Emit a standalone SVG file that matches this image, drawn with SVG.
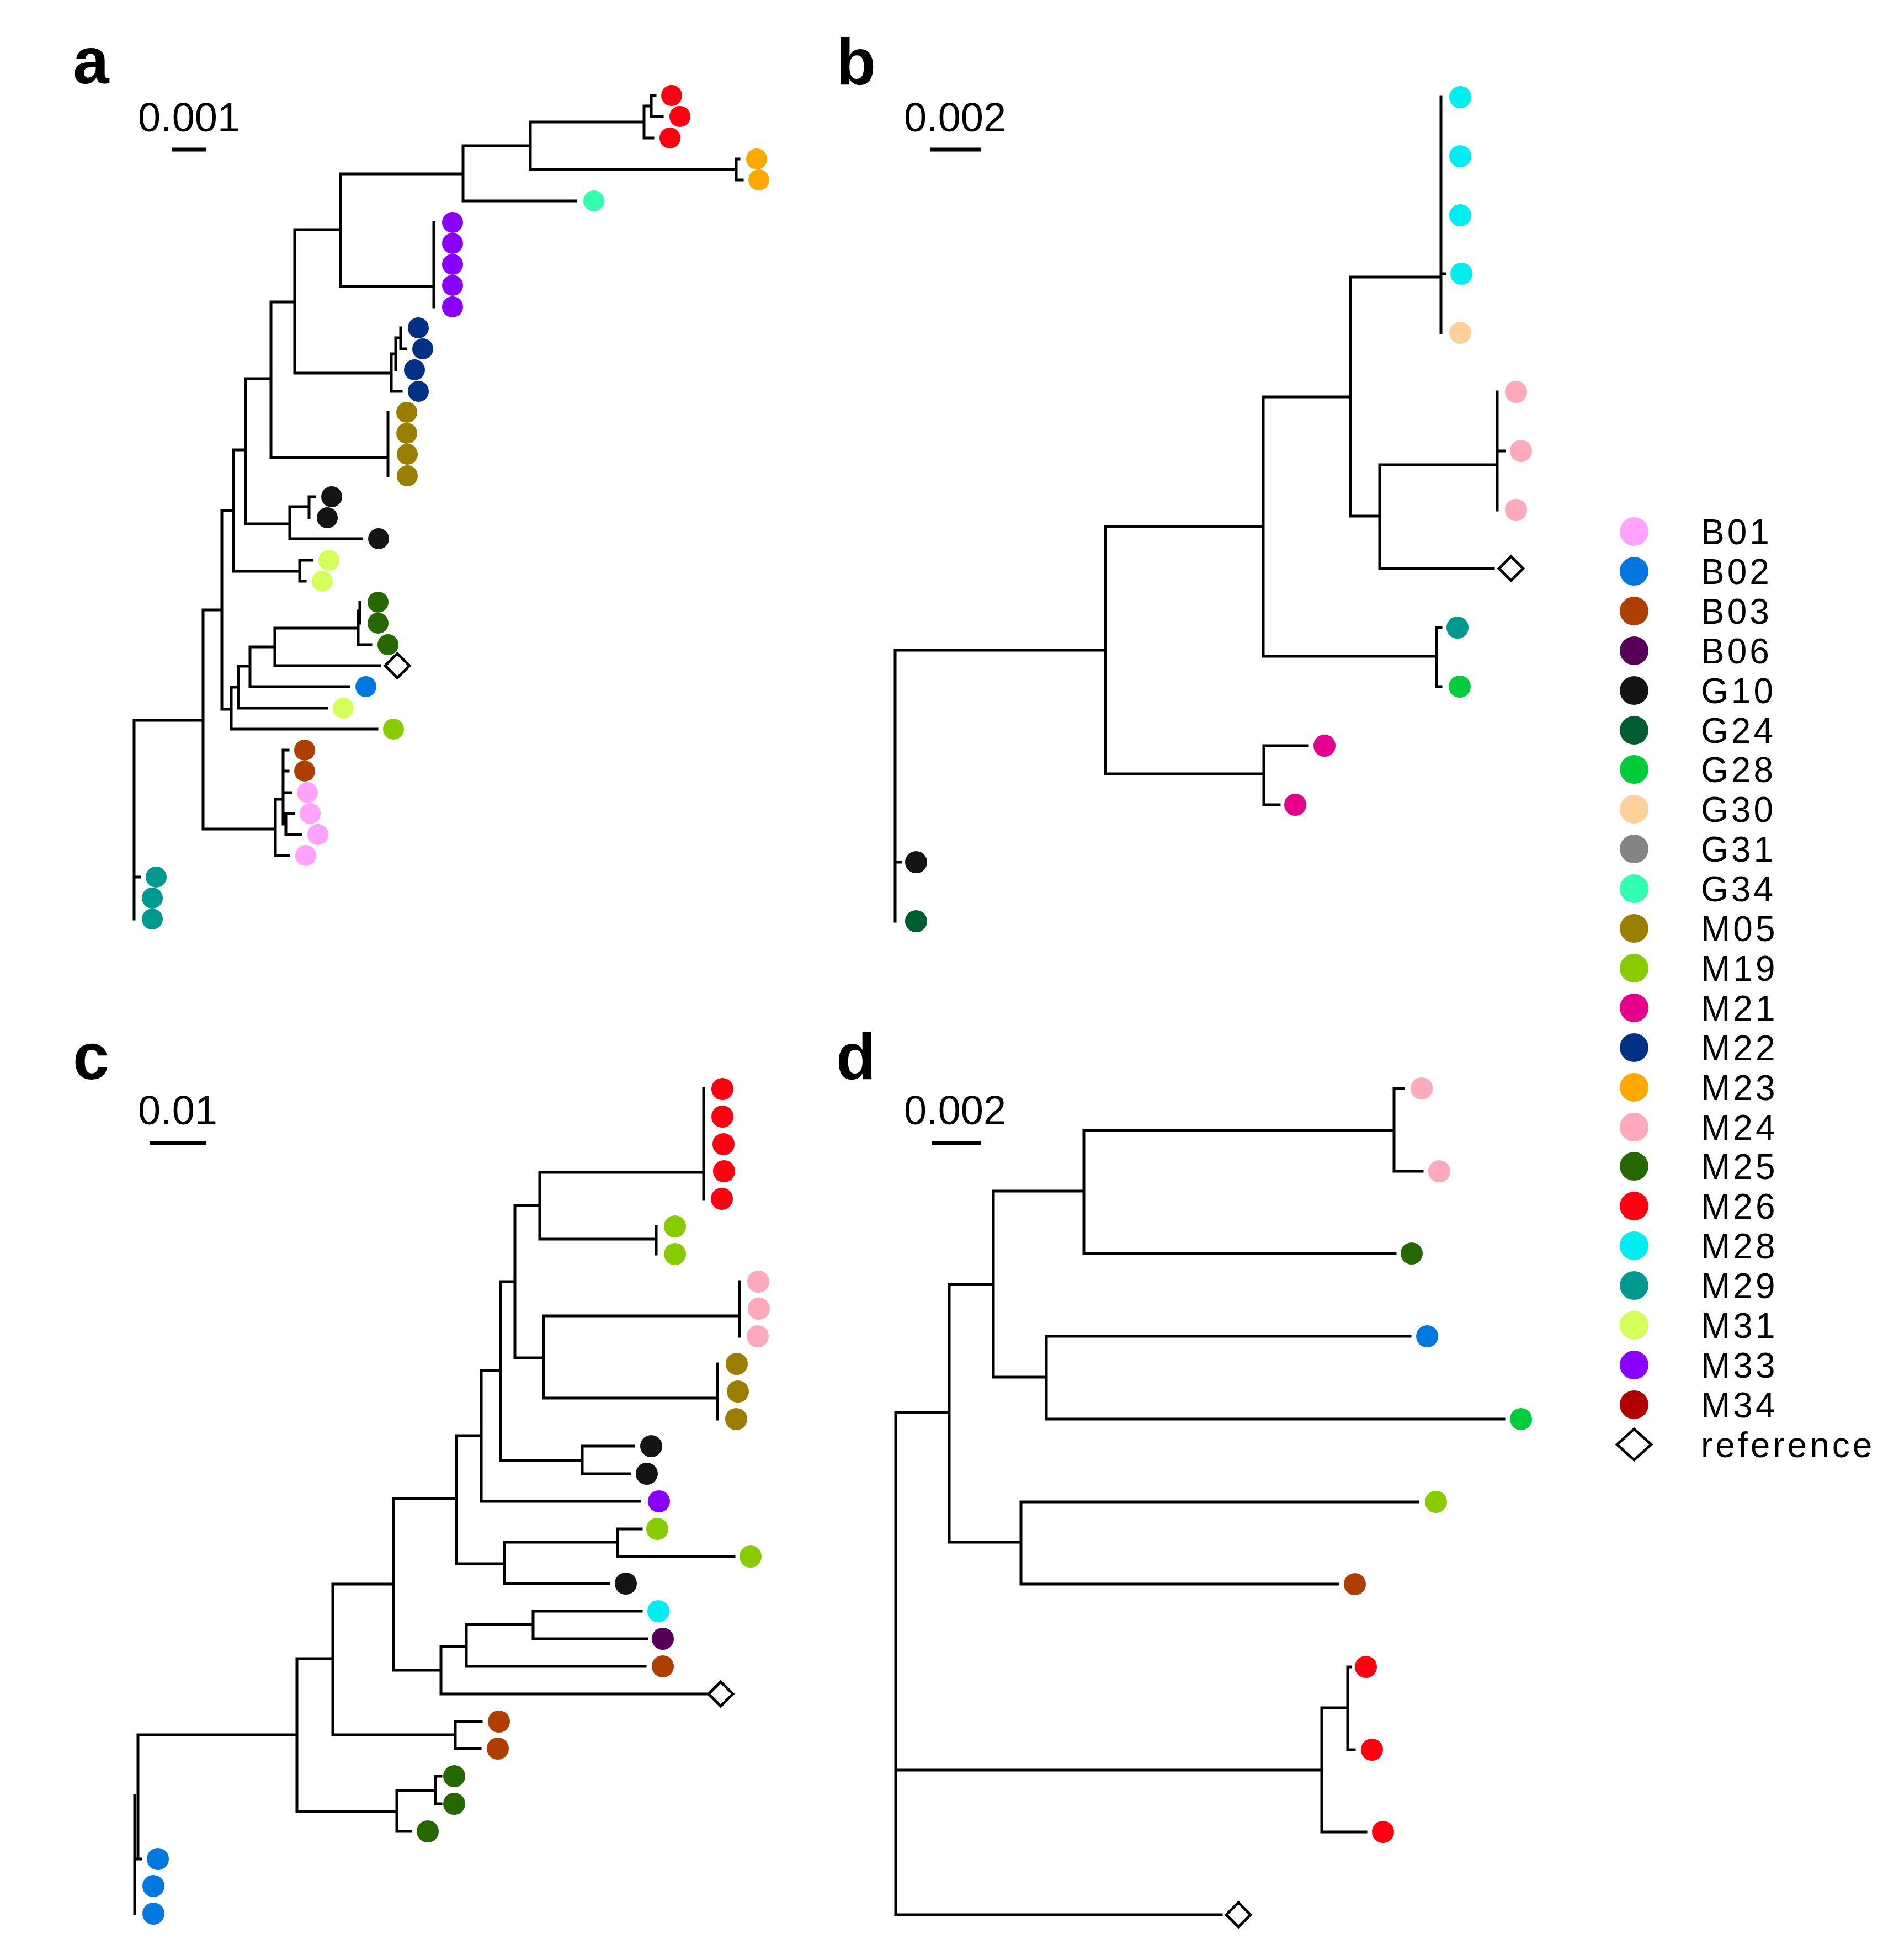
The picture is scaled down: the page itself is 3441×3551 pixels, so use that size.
<svg xmlns="http://www.w3.org/2000/svg" xmlns:xlink="http://www.w3.org/1999/xlink" width="3441" height="3551" viewBox="0 0 3441 3551">
<style>
.br{fill:none;stroke:#000;stroke-width:5;stroke-linecap:square}
.lab{font-family:"Liberation Sans",Arial,sans-serif;font-weight:bold;font-size:118px;fill:#000}
.sc{font-family:"Liberation Sans",Arial,sans-serif;font-size:74px;fill:#000}
.sb{stroke:#000;stroke-width:7}
.lg{font-family:"Liberation Sans",Arial,sans-serif;font-size:64px;letter-spacing:5px;fill:#000}
.dia{fill:#fff;stroke:#000;stroke-width:5}
.B01{fill:#FFA3FF}.B02{fill:#0078DF}.B03{fill:#AF3F00}.B06{fill:#560058}
.G10{fill:#141414}.G24{fill:#005C31}.G28{fill:#00CC3C}.G30{fill:#FFD09A}
.G31{fill:#848484}.G34{fill:#33FFB0}.M05{fill:#9A7E00}.M19{fill:#88CC00}
.M21{fill:#E4008A}.M22{fill:#003184}.M23{fill:#FFA800}.M24{fill:#FFA9BC}
.M25{fill:#256800}.M26{fill:#FF0010}.M28{fill:#00EEF0}.M29{fill:#00998F}
.M31{fill:#D4FF5A}.M33{fill:#8A00FF}.M34{fill:#B20000}
</style>
<defs>
<polygon id="dt" points="-22,0 0,-22 22,0 0,22"/>
</defs>
<rect width="3441" height="3551" fill="#fff"/>

<!-- Panel a -->
<g id="panel-a">
<text class="lab" x="132" y="151">a</text>
<text class="sc" x="250" y="238">0.001</text>
<line class="sb" x1="311" y1="271" x2="373" y2="271"/>
<g id="a-connectors">
<path class="br" d="M243 1305V1665M243 1305H368M243 1589H253
M368 1105V1502M368 1105H402M368 1502H499
M499 1448V1550M499 1448H513M499 1550H523M513 1359V1493M513 1359H522M513 1397H522M513 1436H527M513 1493H518M518 1474V1512M518 1474H532M518 1512H545
M402 925V1285M402 925H423M402 1285H419
M423 815V1035M423 815H445M423 1035H543
M543 1015V1053M543 1015H565M543 1053H553
M445 686V949M445 686H491M445 949H525
M525 918V976M525 976H655M525 918H560M560 900V938M560 900H570
M491 547V829M491 547H534M491 829H703
M703 747V862
M534 416V676M534 416H617M534 676H709
M709 641V709M709 709H727M709 641H717M717 612V670M717 612H726M726 594V632M726 632H735
M617 315V519M617 315H839M617 519H786
M786 403V556
M839 264V364M839 264H961M839 364H1043
M961 221V307M961 221H1167M961 307H1334
M1167 192V250M1167 250H1183M1167 192H1180M1180 173V211M1180 173H1187M1180 211H1200
M1334 288V326M1334 288H1339M1334 326H1345
M419 1245V1321M419 1321H683M419 1245H432
M432 1207V1283M432 1283H592M432 1207H453
M453 1172V1244M453 1244H632M453 1172H498
M498 1138V1206M498 1206H688M498 1138H649
M649 1107V1168M649 1168H672M652 1091V1129"/>
</g>
<g id="a-tips">
<circle class="M26" cx="1217" cy="173" r="19"/><circle class="M26" cx="1232" cy="211" r="19"/><circle class="M26" cx="1214" cy="250" r="19"/>
<circle class="M23" cx="1371" cy="288" r="19"/><circle class="M23" cx="1375" cy="326" r="19"/>
<circle class="G34" cx="1076" cy="364" r="19"/>
<circle class="M33" cx="820" cy="403" r="19"/><circle class="M33" cx="820" cy="441" r="19"/><circle class="M33" cx="820" cy="479" r="19"/><circle class="M33" cx="820" cy="517" r="19"/><circle class="M33" cx="820" cy="556" r="19"/>
<circle class="M22" cx="758" cy="594" r="19"/><circle class="M22" cx="766" cy="632" r="19"/><circle class="M22" cx="751" cy="670" r="19"/><circle class="M22" cx="758" cy="709" r="19"/>
<circle class="M05" cx="737" cy="747" r="19"/><circle class="M05" cx="737" cy="785" r="19"/><circle class="M05" cx="738" cy="823" r="19"/><circle class="M05" cx="738" cy="862" r="19"/>
<circle class="G10" cx="601" cy="900" r="19"/><circle class="G10" cx="593" cy="938" r="19"/><circle class="G10" cx="686" cy="976" r="19"/>
<circle class="M31" cx="596" cy="1015" r="19"/><circle class="M31" cx="584" cy="1053" r="19"/>
<circle class="M25" cx="685" cy="1091" r="19"/><circle class="M25" cx="685" cy="1129" r="19"/><circle class="M25" cx="703" cy="1168" r="19"/>
<use href="#dt" class="dia" x="720" y="1206"/>
<circle class="B02" cx="663" cy="1244" r="19"/>
<circle class="M31" cx="622" cy="1283" r="19"/>
<circle class="M19" cx="713" cy="1321" r="19"/>
<circle class="B03" cx="552" cy="1359" r="19"/><circle class="B03" cx="552" cy="1397" r="19"/>
<circle class="B01" cx="557" cy="1436" r="19"/><circle class="B01" cx="562" cy="1474" r="19"/><circle class="B01" cx="576" cy="1512" r="19"/><circle class="B01" cx="554" cy="1550" r="19"/>
<circle class="M29" cx="283" cy="1589" r="19"/><circle class="M29" cx="276" cy="1627" r="19"/><circle class="M29" cx="276" cy="1665" r="19"/>
</g>
</g>

<!-- Panel b -->
<g id="panel-b">
<text class="lab" x="1515" y="153">b</text>
<text class="sc" x="1638" y="238">0.002</text>
<line class="sb" x1="1686" y1="271" x2="1777" y2="271"/>
<g id="b-connectors">
<path class="br" d="M1622 1178V1669M1622 1178H2003M1622 1562H1632
M2003 954V1402M2003 954H2289M2003 1402H2290
M2290 1351V1458M2290 1351H2369M2290 1458H2318
M2289 719V1189M2289 1189H2603M2289 719H2447
M2603 1137V1244M2603 1137H2611M2603 1244H2611
M2447 502V935M2447 502H2611M2447 935H2500
M2611 176V603M2611 496H2618
M2500 842V1030M2500 842H2713M2500 1030H2706
M2713 710V924M2713 817H2726"/>
</g>
<g id="b-tips">
<circle class="M28" cx="2646" cy="176" r="20"/><circle class="M28" cx="2646" cy="283" r="20"/><circle class="M28" cx="2646" cy="390" r="20"/><circle class="M28" cx="2648" cy="496" r="20"/>
<circle class="G30" cx="2646" cy="603" r="20"/>
<circle class="M24" cx="2747" cy="710" r="20"/><circle class="M24" cx="2756" cy="817" r="20"/><circle class="M24" cx="2747" cy="924" r="20"/>
<use href="#dt" class="dia" x="2738" y="1030"/>
<circle class="M29" cx="2641" cy="1137" r="20"/>
<circle class="G28" cx="2645" cy="1244" r="20"/>
<circle class="M21" cx="2400" cy="1351" r="20"/><circle class="M21" cx="2347" cy="1458" r="20"/>
<circle class="G10" cx="1660" cy="1562" r="20"/>
<circle class="G24" cx="1660" cy="1669" r="20"/>
</g>
</g>

<!-- Panel c -->
<g id="panel-c">
<text class="lab" x="132" y="1955">c</text>
<text class="sc" x="250" y="2037">0.01</text>
<line class="sb" x1="271" y1="2071" x2="373" y2="2071"/>
<g id="c-connectors">
<path class="br" d="M250 3143V3368M244 3253V3467M244 3368H255M250 3143H538
M538 3005V3282M538 3005H603M538 3282H719
M719 3244V3318M719 3244H789M719 3318H744M789 3218V3268M789 3218H799M789 3268H799
M603 2870V3143M603 2870H713M603 3143H825
M825 3119V3168M825 3119H872M825 3168H870
M713 2715V3026M713 2715H827M713 3026H799
M799 2983V3069M799 2983H845M799 3069H1282
M845 2943V3019M845 2943H966M845 3019H1169
M966 2919V2969M966 2919H1162M966 2969H1172
M827 2601V2833M827 2601H872M827 2833H914
M914 2794V2869M914 2794H1119M914 2869H1103
M1119 2770V2820M1119 2770H1162M1119 2820H1330
M872 2483V2720M872 2720H1159M872 2483H907
M907 2322V2646M907 2646H1055M907 2322H933
M1055 2620V2670M1055 2620H1148M1055 2670H1141
M933 2184V2460M933 2184H978M933 2460H985
M985 2384V2533M985 2384H1339M985 2533H1299
M978 2124V2245M978 2124H1275M978 2245H1189
M1189 2222V2272
M1275 1972V2172
M1340 2322V2421
M1300 2471V2571"/>
</g>
<g id="c-tips">
<circle class="M26" cx="1309" cy="1973" r="20"/><circle class="M26" cx="1309" cy="2023" r="20"/><circle class="M26" cx="1311" cy="2073" r="20"/><circle class="M26" cx="1312" cy="2122" r="20"/><circle class="M26" cx="1308" cy="2172" r="20"/>
<circle class="M19" cx="1223" cy="2222" r="20"/><circle class="M19" cx="1223" cy="2272" r="20"/>
<circle class="M24" cx="1374" cy="2322" r="20"/><circle class="M24" cx="1375" cy="2371" r="20"/><circle class="M24" cx="1373" cy="2421" r="20"/>
<circle class="M05" cx="1335" cy="2471" r="20"/><circle class="M05" cx="1337" cy="2521" r="20"/><circle class="M05" cx="1334" cy="2571" r="20"/>
<circle class="G10" cx="1180" cy="2620" r="20"/><circle class="G10" cx="1172" cy="2670" r="20"/>
<circle class="M33" cx="1194" cy="2720" r="20"/>
<circle class="M19" cx="1191" cy="2770" r="20"/><circle class="M19" cx="1360" cy="2820" r="20"/>
<circle class="G10" cx="1134" cy="2869" r="20"/>
<circle class="M28" cx="1193" cy="2919" r="20"/>
<circle class="B06" cx="1201" cy="2969" r="20"/>
<circle class="B03" cx="1201" cy="3019" r="20"/>
<use href="#dt" class="dia" x="1306" y="3069"/>
<circle class="B03" cx="904" cy="3119" r="20"/><circle class="B03" cx="902" cy="3168" r="20"/>
<circle class="M25" cx="823" cy="3218" r="20"/><circle class="M25" cx="823" cy="3268" r="20"/><circle class="M25" cx="775" cy="3318" r="20"/>
<circle class="B02" cx="286" cy="3368" r="20"/><circle class="B02" cx="278" cy="3417" r="20"/><circle class="B02" cx="278" cy="3467" r="20"/>
</g>
</g>

<!-- Panel d -->
<g id="panel-d">
<text class="lab" x="1515" y="1955">d</text>
<text class="sc" x="1638" y="2037">0.002</text>
<line class="sb" x1="1688" y1="2071" x2="1777" y2="2071"/>
<g id="d-connectors">
<path class="br" d="M1623 2559V3469M1623 2559H1720M1623 3207H2395M1623 3469H2213
M1720 2327V2794M1720 2327H1800M1720 2794H1850
M1800 2158V2495M1800 2158H1964M1800 2495H1896
M1964 2048V2271M1964 2048H2526M1964 2271H2528
M2526 1972V2122M2526 1972H2543M2526 2122H2577
M1896 2421V2571M1896 2421H2555M1896 2571H2725
M1850 2721V2870M1850 2721H2569M1850 2870H2424
M2395 3094V3319M2395 3094H2442M2395 3319H2475
M2442 3020V3170M2442 3020H2447M2442 3170H2454"/>
</g>
<g id="d-tips">
<circle class="M24" cx="2576" cy="1972" r="20"/><circle class="M24" cx="2608" cy="2122" r="20"/>
<circle class="M25" cx="2558" cy="2271" r="20"/>
<circle class="B02" cx="2586" cy="2421" r="20"/>
<circle class="G28" cx="2756" cy="2571" r="20"/>
<circle class="M19" cx="2602" cy="2721" r="20"/>
<circle class="B03" cx="2455" cy="2870" r="20"/>
<circle class="M26" cx="2475" cy="3020" r="20"/><circle class="M26" cx="2486" cy="3170" r="20"/><circle class="M26" cx="2506" cy="3319" r="20"/>
<use href="#dt" class="dia" x="2244" y="3469"/>
</g>
</g>

<!-- Legend -->
<g id="legend">
<g id="lg-B01"><circle class="B01" cx="2961" cy="963" r="26"/><text class="lg" x="3082" y="986">B01</text></g>
<g id="lg-B02"><circle class="B02" cx="2961" cy="1035" r="26"/><text class="lg" x="3082" y="1058">B02</text></g>
<g id="lg-B03"><circle class="B03" cx="2961" cy="1107" r="26"/><text class="lg" x="3082" y="1130">B03</text></g>
<g id="lg-B06"><circle class="B06" cx="2961" cy="1179" r="26"/><text class="lg" x="3082" y="1202">B06</text></g>
<g id="lg-G10"><circle class="G10" cx="2961" cy="1251" r="26"/><text class="lg" x="3082" y="1274">G10</text></g>
<g id="lg-G24"><circle class="G24" cx="2961" cy="1323" r="26"/><text class="lg" x="3082" y="1346">G24</text></g>
<g id="lg-G28"><circle class="G28" cx="2961" cy="1394" r="26"/><text class="lg" x="3082" y="1417">G28</text></g>
<g id="lg-G30"><circle class="G30" cx="2961" cy="1466" r="26"/><text class="lg" x="3082" y="1489">G30</text></g>
<g id="lg-G31"><circle class="G31" cx="2961" cy="1538" r="26"/><text class="lg" x="3082" y="1561">G31</text></g>
<g id="lg-G34"><circle class="G34" cx="2961" cy="1610" r="26"/><text class="lg" x="3082" y="1633">G34</text></g>
<g id="lg-M05"><circle class="M05" cx="2961" cy="1682" r="26"/><text class="lg" x="3082" y="1705">M05</text></g>
<g id="lg-M19"><circle class="M19" cx="2961" cy="1754" r="26"/><text class="lg" x="3082" y="1777">M19</text></g>
<g id="lg-M21"><circle class="M21" cx="2961" cy="1826" r="26"/><text class="lg" x="3082" y="1849">M21</text></g>
<g id="lg-M22"><circle class="M22" cx="2961" cy="1898" r="26"/><text class="lg" x="3082" y="1921">M22</text></g>
<g id="lg-M23"><circle class="M23" cx="2961" cy="1970" r="26"/><text class="lg" x="3082" y="1993">M23</text></g>
<g id="lg-M24"><circle class="M24" cx="2961" cy="2042" r="26"/><text class="lg" x="3082" y="2065">M24</text></g>
<g id="lg-M25"><circle class="M25" cx="2961" cy="2113" r="26"/><text class="lg" x="3082" y="2136">M25</text></g>
<g id="lg-M26"><circle class="M26" cx="2961" cy="2185" r="26"/><text class="lg" x="3082" y="2208">M26</text></g>
<g id="lg-M28"><circle class="M28" cx="2961" cy="2257" r="26"/><text class="lg" x="3082" y="2280">M28</text></g>
<g id="lg-M29"><circle class="M29" cx="2961" cy="2329" r="26"/><text class="lg" x="3082" y="2352">M29</text></g>
<g id="lg-M31"><circle class="M31" cx="2961" cy="2401" r="26"/><text class="lg" x="3082" y="2424">M31</text></g>
<g id="lg-M33"><circle class="M33" cx="2961" cy="2473" r="26"/><text class="lg" x="3082" y="2496">M33</text></g>
<g id="lg-M34"><circle class="M34" cx="2961" cy="2545" r="26"/><text class="lg" x="3082" y="2568">M34</text></g>
<g id="lg-ref"><polygon class="dia" points="2930,2617 2961,2589 2992,2617 2961,2645"/><text class="lg" x="3082" y="2640">reference</text></g>
</g>
</svg>
